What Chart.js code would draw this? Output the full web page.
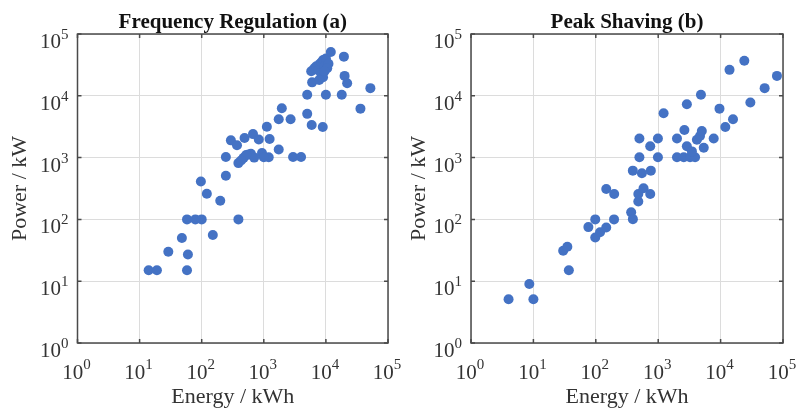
<!DOCTYPE html>
<html>
<head>
<meta charset="utf-8">
<script src="https://cdn.jsdelivr.net/npm/chart.js@4"></script>
<style>
  body { margin: 0; background: #fff; }
  canvas { position: absolute; top: 0; }
  #chartA { left: 0; }
  #chartB { left: 399px; }
</style>
</head>
<body>
<canvas id="chartA" width="430" height="412"></canvas>
<canvas id="chartB" width="399" height="412"></canvas>
<script>
// decade ticks and their exponents
const tickValues = [1, 10, 100, 1000, 10000, 100000]
const tickPowers = ['0', '1', '2', '3', '4', '5']

// Frequency Regulation (a)
const energyA = [14, 19, 29, 48, 60, 58, 58, 79, 100, 97, 121, 151, 199, 245, 245, 390, 390, 295, 370, 490,
    473, 570, 620, 670, 830, 935, 1240, 1200, 1000, 1120, 1740, 1740, 1950, 2700, 2960, 3980, 5000, 5000,
    5900, 8900, 10000, 6000, 5800, 6500, 7000, 7500, 8000, 8500, 9000, 9500, 8500, 9000, 10000, 11000,
    12000, 10500, 7800, 9500, 19500, 20000, 22000, 18000, 36000, 52000, 700, 520, 430]
const powerA = [15, 15, 30, 50, 27, 15, 100, 100, 100, 410, 260, 56, 200, 510, 1020, 100, 815, 1900, 1580, 2070,
    990, 1120, 1150, 2400, 1960, 1190, 2000, 1010, 1010, 3160, 1350, 4170, 6300, 4170, 1020, 1020, 5100, 10400,
    3380, 3120, 10400, 16500, 25000, 28000, 30000, 26000, 33000, 35000, 38000, 30000, 22000, 20000, 40000, 33000,
    51000, 28000, 18000, 25000, 43000, 21000, 16000, 10400, 6200, 13300, 1000, 1100, 900]

// Peak Shaving (b)
const energyB = [4, 8.6, 10, 37, 30, 35, 76, 98, 98, 117, 147, 196, 147, 197, 369, 393, 480, 480, 582, 745,
    392, 548, 762, 500, 500, 745, 990, 990, 1220, 2000, 2000, 2570, 3240, 3900, 2880, 3470, 4170, 4680, 5000,
    2630, 2880, 4840, 5370, 7750, 9600, 11900, 15800, 13900, 24000, 30000, 50800, 80000]
const powerB = [5.1, 9, 5.1, 15, 31, 36, 75, 100, 51, 62, 74, 100, 310, 257, 130, 101, 195, 257, 320, 257,
    615, 560, 615, 1010, 2040, 1530, 2040, 1010, 5230, 2040, 1010, 1010, 1010, 1010, 1530, 1260, 1950, 2240, 2690,
    2790, 7300, 10400, 1440, 2040, 6200, 3120, 4170, 26300, 37000, 7800, 13300, 21000]

const serif = "'Liberation Serif', 'DejaVu Serif', serif"
const dotColor = '#4472c4'

// MATLAB-like box, inward ticks and 10^n labels
const decadeAxes = {
    id: 'decadeAxes',
    afterDraw(chart) {
        const ctx = chart.ctx
        const area = chart.chartArea
        const xs = chart.scales.x
        const ys = chart.scales.y
        ctx.save()
        ctx.strokeStyle = '#4a4a4a'
        ctx.lineWidth = 1.5
        ctx.strokeRect(area.left, area.top, area.right - area.left, area.bottom - area.top)
        ctx.beginPath()
        tickValues.forEach(v => {
            const px = xs.getPixelForValue(v)
            const py = ys.getPixelForValue(v)
            ctx.moveTo(px, area.bottom); ctx.lineTo(px, area.bottom - 4)
            ctx.moveTo(px, area.top); ctx.lineTo(px, area.top + 4)
            ctx.moveTo(area.left, py); ctx.lineTo(area.left + 4, py)
            ctx.moveTo(area.right, py); ctx.lineTo(area.right - 4, py)
        })
        ctx.stroke()

        ctx.fillStyle = '#333'
        ctx.textBaseline = 'alphabetic'
        ctx.textAlign = 'left'
        tickValues.forEach((v, i) => {
            ctx.font = '21px ' + serif
            const w1 = ctx.measureText('10').width
            ctx.font = '15px ' + serif
            const w2 = ctx.measureText(tickPowers[i]).width
            // x axis
            const px = xs.getPixelForValue(v)
            const sx = px - (w1 + w2) / 2 - 1
            ctx.font = '21px ' + serif
            ctx.fillText('10', sx, area.bottom + 36)
            ctx.font = '15px ' + serif
            ctx.fillText(tickPowers[i], sx + w1, area.bottom + 26)
            // y axis
            const py = ys.getPixelForValue(v)
            const rx = area.left - 9
            ctx.font = '21px ' + serif
            ctx.fillText('10', rx - w2 - w1, py + 14)
            ctx.font = '15px ' + serif
            ctx.fillText(tickPowers[i], rx - w2, py + 5)
        })
        ctx.restore()
    }
}

function makeChart(id, title, energy, power, yWidth, padRight) {
    const ctx = document.getElementById(id).getContext('2d')
    return new Chart(ctx, {
        type: 'scatter',
        data: {
            datasets: [{
                data: energy.map((e, i) => ({ x: e, y: power[i] })),
                backgroundColor: dotColor,
                borderWidth: 0,
                pointRadius: 5,
                pointHoverRadius: 5
            }]
        },
        options: {
            responsive: false,
            animation: false,
            devicePixelRatio: 1,
            layout: { padding: { left: 0, right: padRight, top: 0, bottom: 0 } },
            plugins: {
                legend: { display: false },
                tooltip: { enabled: false },
                title: {
                    display: true,
                    fullSize: false,
                    text: title,
                    color: '#111',
                    font: { family: serif, size: 21, weight: 'bold' },
                    padding: { top: 10, bottom: -1.2 }
                }
            },
            scales: {
                x: {
                    type: 'logarithmic',
                    min: 1,
                    max: 100000,
                    afterBuildTicks: s => { s.ticks = tickValues.map(v => ({ value: v })) },
                    afterFit: s => { s.height = 69 },
                    ticks: { display: false },
                    grid: { color: '#dcdcdc', drawTicks: false },
                    border: { display: false },
                    title: {
                        display: true,
                        text: 'Energy / kWh',
                        color: '#333',
                        font: { family: serif, size: 22 },
                        padding: { top: 4, bottom: 2 }
                    }
                },
                y: {
                    type: 'logarithmic',
                    min: 1,
                    max: 100000,
                    afterBuildTicks: s => { s.ticks = tickValues.map(v => ({ value: v })) },
                    afterFit: s => { s.width = yWidth },
                    ticks: { display: false },
                    grid: { color: '#dcdcdc', drawTicks: false },
                    border: { display: false },
                    title: {
                        display: true,
                        text: 'Power / kW',
                        color: '#333',
                        font: { family: serif, size: 22 },
                        padding: { top: 7, bottom: 4 }
                    }
                }
            }
        },
        plugins: [decadeAxes]
    })
}

makeChart('chartA', 'Frequency Regulation (a)', energyA, powerA, 77.5, 42)
makeChart('chartB', 'Peak Shaving (b)', energyB, powerB, 72, 15)
</script>
</body>
</html>
